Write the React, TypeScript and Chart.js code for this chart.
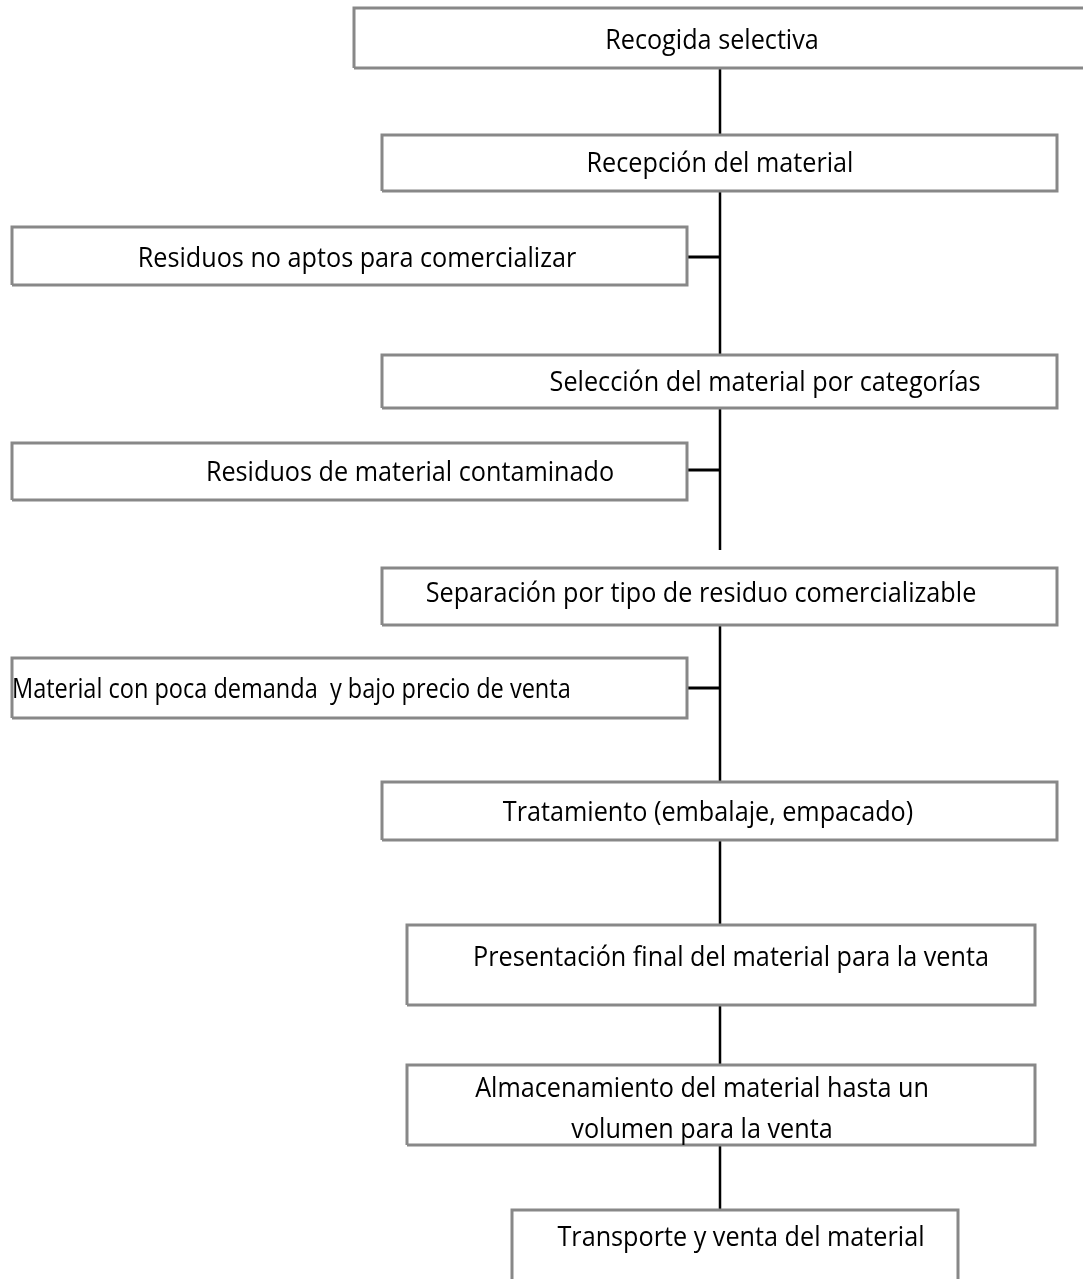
import React, { useEffect, useRef } from "react";
import { Chart, registerables } from "chart.js";

Chart.register(...registerables);

// Flowchart steps (box extents are in axis units of a 1083 x 1279 plane)
const boxLabels: string[][] = [
  ["Recogida selectiva"],
  ["Recepción del material"],
  ["Residuos no aptos para comercializar"],
  ["Selección del material por categorías"],
  ["Residuos de material contaminado"],
  ["Separación por tipo de residuo comercializable"],
  ["Material con poca demanda  y bajo precio de venta"],
  ["Tratamiento (embalaje, empacado)"],
  ["Presentación final del material para la venta"],
  ["Almacenamiento del material hasta un", "volumen para la venta"],
  ["Transporte y venta del material"],
];
const boxLeft = [354, 382, 12, 382, 12, 382, 12, 382, 407, 407, 512];
const boxRight = [1100, 1057, 687, 1057, 687, 1057, 687, 1057, 1035, 1035, 958];
const boxTop = [8, 135, 227, 355, 443, 568, 658, 782, 925, 1065, 1210];
const boxBottom = [68, 191, 285, 408, 500, 625, 718, 840, 1005, 1145, 1300];
const labelX = [712, 720, 357, 765, 410, 701, 12, 708, 731, 702, 741];
const labelY = [41, 164, 259, 383, 473, 594, 690, 813, 958, 1089, 1238];
const labelAlign = ["center", "center", "center", "center", "center", "center", "left", "center", "center", "center", "center"];
const lineGap = 41;

// Main vertical flow line (x position and segment ends)
const spineX = 720;
const spineFrom = [68, 191, 408, 625, 840, 1005, 1145];
const spineTo = [135, 355, 550, 782, 925, 1065, 1210];

// Side branches (horizontal connectors)
const branchFromX = 687;
const branchY = [257, 470, 688];

const W = 1083;
const H = 1279;

export default function App() {
  const ref = useRef<HTMLCanvasElement | null>(null);

  useEffect(() => {
    if (!ref.current) return;
    const datasets: any[] = [];
    boxLeft.forEach((l, i) => {
      const r = boxRight[i];
      const t = boxTop[i];
      const b = boxBottom[i];
      datasets.push({
        data: [
          { x: l, y: b },
          { x: l, y: t },
          { x: r, y: t },
          { x: r, y: b },
          { x: l, y: b },
        ],
        borderColor: "#888888",
        borderWidth: 3,
        pointRadius: 0,
        fill: false,
        tension: 0,
        showLine: true,
      });
    });
    spineFrom.forEach((f, i) => {
      datasets.push({
        data: [
          { x: spineX, y: f },
          { x: spineX, y: spineTo[i] },
        ],
        borderColor: "#000000",
        borderWidth: 2.5,
        pointRadius: 0,
        fill: false,
        showLine: true,
      });
    });
    branchY.forEach((y) => {
      datasets.push({
        data: [
          { x: branchFromX, y },
          { x: spineX, y },
        ],
        borderColor: "#000000",
        borderWidth: 3,
        pointRadius: 0,
        fill: false,
        showLine: true,
      });
    });

    const sx = 1.05;
    const sy = 1.15;
    const labelPlugin = {
      id: "labels",
      afterDatasetsDraw(chart: any) {
        const ctx = chart.ctx;
        const xs = chart.scales.x;
        const ys = chart.scales.y;
        ctx.save();
        ctx.fillStyle = "#000000";
        ctx.font = '24px "Open Sans"';
        ctx.textBaseline = "middle";
        boxLabels.forEach((lines, i) => {
          ctx.textAlign = labelAlign[i];
          lines.forEach((line, j) => {
            const px = xs.getPixelForValue(labelX[i]);
            const py = ys.getPixelForValue(labelY[i] + j * lineGap);
            ctx.save();
            ctx.translate(px, py);
            ctx.scale(labelAlign[i] === "left" ? 0.98 : sx, sy);
            ctx.fillText(line, 0, 0);
            ctx.restore();
          });
        });
        ctx.restore();
      },
    };

    const chart = new Chart(ref.current, {
      type: "scatter",
      data: { datasets },
      options: {
        animation: false,
        responsive: false,
        maintainAspectRatio: false,
        layout: { padding: 0 },
        plugins: { legend: { display: false }, tooltip: { enabled: false } },
        scales: {
          x: { type: "linear", min: 0, max: W, display: false },
          y: { type: "linear", min: 0, max: H, reverse: true, display: false },
        },
      },
      plugins: [labelPlugin],
    });
    return () => chart.destroy();
  }, []);

  return (
    <div style={{ position: "absolute", left: 0, top: 0, width: W, height: H, background: "#fff" }}>
      <canvas ref={ref} width={W} height={H} style={{ display: "block" }} />
    </div>
  );
}
